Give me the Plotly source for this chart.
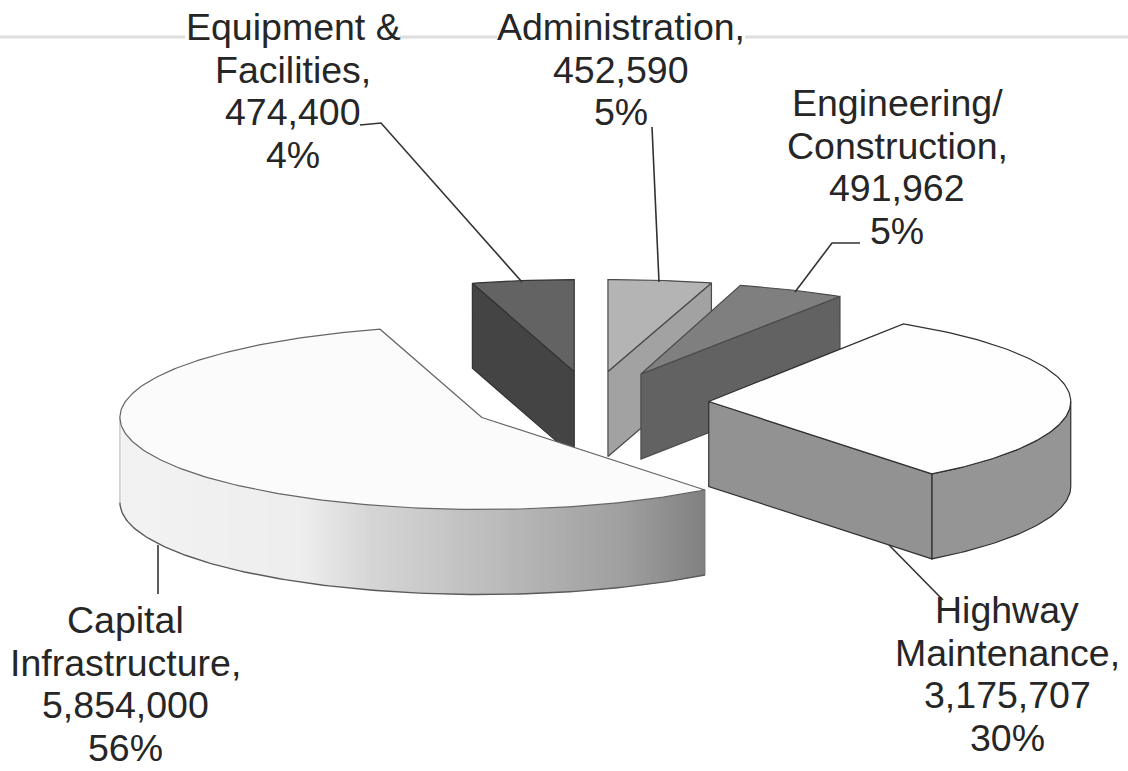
import math
import plotly.graph_objects as go

# ---- data (clockwise from 12 o'clock)
categories = ["Administration", "Engineering/<br>Construction", "Highway<br>Maintenance",
              "Capital<br>Infrastructure", "Equipment &<br>Facilities"]
values = [452590, 491962, 3175707, 5854000, 474400]
percent_labels = ["5%", "5%", "30%", "56%", "4%"]

# ---- styling / projection
W, H = 1128, 771
CX, CY = 591, 403          # pie centre on the page
B = 92                     # minor ellipse radius of the tilted top face
SLICE_A = [385, 370, 362, 362, 362]   # major ellipse radius per slice (perspective)
NUDGE = [0, -1, -7, 2, 1]  # perspective shift of each slice
DEPTH = 85
PULL = 0.345               # explosion as a fraction of the radius
PULL_A = 362
TOP = ["#b4b4b4", "#7f7f7f", "#fefefe", "#fbfbfb", "#636363"]
CUT = ["#a2a2a2", "#626262", "#929292", None, "#444444"]
CUT_AT_END = [True, True, True, None, False]
EDGE = ["#4a4a4a", "#4a4a4a", "#303030", "#666666", "#333333"]
LABEL_POS = [(621, 27), (897, 103), (1007, 610), (125, 620), (293, 27)]
LINE_STEP = 42.5
LEADERS = [[(652, 127), (659, 282)],
           [(860, 243), (832, 243), (795, 292)],
           [(889, 545), (943, 600)],
           [(158, 545), (158, 594)],
           [(360, 125), (381, 123), (522, 282)]]
FONT = dict(family="Liberation Sans, Arial, sans-serif", size=37.5, color="#262626")

total = sum(values)
spans = []
a0 = 0.0
for v in values:
    a1 = a0 + 360.0 * v / total
    spans.append((a0, a1))
    a0 = a1


def project(i, apex, deg, down=0.0):
    t = math.radians(deg)
    return apex[0] + SLICE_A[i] * math.sin(t), apex[1] - B * math.cos(t) + down


def arc(a, b, step=1.0):
    n = max(2, int(abs(b - a) / step) + 1)
    return [a + (b - a) * k / (n - 1) for k in range(n)]


def poly(fig, pts, fill, edge=None, width=1.2):
    xs = [p[0] for p in pts] + [pts[0][0]]
    ys = [p[1] for p in pts] + [pts[0][1]]
    fig.add_trace(go.Scatter(
        x=xs, y=ys, mode="lines", fill="toself", fillcolor=fill,
        line=dict(color=edge if edge else fill, width=width if edge else 0),
        hoverinfo="skip", showlegend=False))


def line(fig, pts, color, width=1.4):
    fig.add_trace(go.Scatter(
        x=[p[0] for p in pts], y=[p[1] for p in pts], mode="lines",
        line=dict(color=color, width=width), hoverinfo="skip", showlegend=False))


def capital_shade(x):
    # light at the far left, falling to mid grey at the right end
    stops = [(120, 243), (300, 238), (370, 214), (500, 186), (620, 160), (705, 128)]
    for (x0, v0), (x1, v1) in zip(stops, stops[1:]):
        if x <= x1:
            v = v0 + (v1 - v0) * (max(x, x0) - x0) / (x1 - x0)
            break
    else:
        v = stops[-1][1]
    v = int(v)
    return f"rgb({v},{v},{v})"


fig = go.Figure()

# faint rule at the top of the scanned page
for seg in [(0, 185), (400, 497), (745, 1128)]:
    fig.add_shape(type="line", x0=seg[0], x1=seg[1], y0=37, y1=37,
                  line=dict(color="#dedede", width=3), layer="below")

for i in [4, 0, 1, 2, 3]:            # painter's order, back to front
    s, e = spans[i]
    mid = math.radians((s + e) / 2)
    apex = (CX + NUDGE[i] + PULL * PULL_A * math.sin(mid), CY - PULL * B * math.cos(mid))
    # outer wall for the part of the rim facing the viewer
    lo, hi = max(s, 90.0), min(e, 270.0)
    if hi > lo:
        if i == 3:
            degs = arc(lo, hi, 0.8)
            for d0, d1 in zip(degs, degs[2:] + [degs[-1]]):
                p0 = project(i, apex, d0)
                p1 = project(i, apex, d1)
                q = [p0, p1, (p1[0], p1[1] + DEPTH), (p0[0], p0[1] + DEPTH)]
                poly(fig, q, capital_shade((p0[0] + p1[0]) / 2))
            degs = arc(lo, hi)
            line(fig, [project(i, apex, d, down=DEPTH) for d in degs], "#5a5a5a")
            right = project(i, apex, lo)
            line(fig, [right, (right[0], right[1] + DEPTH)], "#777777", 1.0)
            left = project(i, apex, hi)
            line(fig, [left, (left[0], left[1] + DEPTH)], "#b5b5b5", 1.0)
        else:
            degs = arc(lo, hi)
            wall = [project(i, apex, d) for d in degs] + \
                   [project(i, apex, d, down=DEPTH) for d in reversed(degs)]
            poly(fig, wall, "#959595", EDGE[i])
    # straight cut face
    if CUT[i]:
        d = e if CUT_AT_END[i] else s
        rim = project(i, apex, d)
        poly(fig, [apex, rim, (rim[0], rim[1] + DEPTH), (apex[0], apex[1] + DEPTH)],
             CUT[i], EDGE[i])
    # top face
    degs = arc(s, e)
    poly(fig, [apex] + [project(i, apex, d) for d in degs], TOP[i], EDGE[i])

# leader lines
for pts in LEADERS:
    line(fig, pts, "#333333", 1.6)

# labels, one annotation per line for the tight line spacing of the original
for name, val, pct, pos in zip(categories, values, percent_labels, LABEL_POS):
    rows = (name + ",").split("<br>") + [f"{val:,}", pct]
    for k, row in enumerate(rows):
        fig.add_annotation(x=pos[0], y=pos[1] + k * LINE_STEP, text=row,
                           showarrow=False, font=FONT, xanchor="center", yanchor="middle",
                           align="center")

fig.update_layout(width=W, height=H, margin=dict(l=0, r=0, t=0, b=0),
                  paper_bgcolor="white", plot_bgcolor="white", showlegend=False,
                  xaxis=dict(range=[0, W], visible=False, fixedrange=True),
                  yaxis=dict(range=[H, 0], visible=False, fixedrange=True))
fig.write_html("out.html", post_script="document.body.style.margin='0';",
               config={"displayModeBar": False})
